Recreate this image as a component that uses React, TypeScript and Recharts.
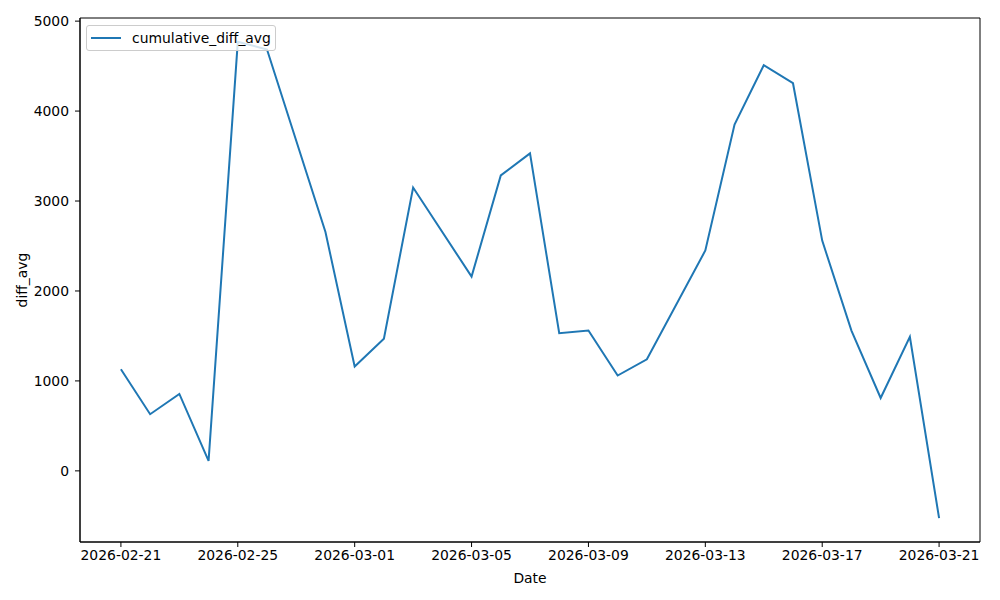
import React from 'react';
import { LineChart, Line, XAxis, YAxis, ReferenceArea } from 'recharts';

const dates = [
  '2026-02-21', '2026-02-22', '2026-02-23', '2026-02-24', '2026-02-25', '2026-02-26',
  '2026-02-28', '2026-03-01', '2026-03-02', '2026-03-03', '2026-03-05', '2026-03-06',
  '2026-03-07', '2026-03-08', '2026-03-09', '2026-03-10', '2026-03-11', '2026-03-13',
  '2026-03-14', '2026-03-15', '2026-03-16', '2026-03-17', '2026-03-18', '2026-03-19',
  '2026-03-20', '2026-03-21',
];
const cumulativeDiffAvg = [
  1130, 630, 855, 111, 4770, 4685,
  2655, 1160, 1470, 3150, 2160, 3285,
  3530, 1530, 1560, 1060, 1240, 2450,
  3850, 4510, 4310, 2560, 1560, 810,
  1490, -526,
];
const xTickLabels = [
  '2026-02-21', '2026-02-25', '2026-03-01', '2026-03-05',
  '2026-03-09', '2026-03-13', '2026-03-17', '2026-03-21',
];
const yTicks = [0, 1000, 2000, 3000, 4000, 5000];

const DAY = 86400000;
const toDay = (s: string) => Math.round(Date.parse(s + 'T00:00:00Z') / DAY);
const base = toDay(dates[0]);
const data = dates.map((d, i) => ({ x: toDay(d) - base, v: cumulativeDiffAvg[i] }));
const xTicks = xTickLabels.map((d) => toDay(d) - base);
const dayToLabel = (n: number) => new Date((base + n) * DAY).toISOString().slice(0, 10);

const xMin = Math.min(...data.map((d) => d.x));
const xMax = Math.max(...data.map((d) => d.x));
const xPad = (xMax - xMin) * 0.05;
const yMin = Math.min(...cumulativeDiffAvg);
const yMax = Math.max(...cumulativeDiffAvg);
const yPad = (yMax - yMin) * 0.05;
const xDomain = [xMin - xPad, xMax + xPad];
const yDomain = [yMin - yPad, yMax + yPad];

const FONT = '"DejaVu Sans", sans-serif';
const COLOR = '#1f77b4';
const tickStyle = { fill: '#000', fontSize: 13.9, fontFamily: FONT };

const LegendBox = () => (
  <div
    style={{
      position: 'absolute',
      left: 86,
      top: 25,
      boxSizing: 'border-box',
      width: 190,
      height: 26,
      border: '1px solid #cccccc',
      borderRadius: 3,
      background: 'rgba(255,255,255,0.8)',
      display: 'flex',
      alignItems: 'center',
      fontFamily: FONT,
      fontSize: 13.9,
      color: '#000',
      zIndex: 2,
    }}
  >
    <svg width={30} height={4} style={{ marginLeft: 4, marginRight: 11 }}>
      <line x1={0} y1={2} x2={30} y2={2} stroke={COLOR} strokeWidth={2} />
    </svg>
    <span style={{ whiteSpace: 'nowrap' }}>cumulative_diff_avg</span>
  </div>
);

export default function App() {
  return (
    <div style={{ position: 'absolute', left: 0, top: 0, width: 1000, height: 600, background: '#fff' }}>
      <LineChart width={1000} height={600} data={data} margin={{ top: 18, right: 20, left: 0, bottom: 0 }}>
        <XAxis
          dataKey="x"
          type="number"
          domain={xDomain}
          ticks={xTicks}
          tickFormatter={dayToLabel}
          allowDataOverflow
          height={58}
          tick={tickStyle}
          tickSize={5}
          tickMargin={3}
          axisLine={{ stroke: '#000', strokeWidth: 1 }}
          tickLine={{ stroke: '#000', strokeWidth: 1 }}
          label={{ value: 'Date', position: 'insideBottom', offset: 17, style: { ...tickStyle } }}
        />
        <YAxis
          type="number"
          domain={yDomain}
          ticks={yTicks}
          allowDataOverflow
          width={80}
          tick={tickStyle}
          tickSize={5}
          tickMargin={6}
          axisLine={{ stroke: '#000', strokeWidth: 1 }}
          tickLine={{ stroke: '#000', strokeWidth: 1 }}
          label={{
            value: 'diff_avg',
            angle: -90,
            position: 'insideLeft',
            offset: 22,
            style: { ...tickStyle, textAnchor: 'middle' },
          }}
        />
        <ReferenceArea
          x1={xDomain[0]}
          x2={xDomain[1]}
          y1={yDomain[0]}
          y2={yDomain[1]}
          fill="none"
          fillOpacity={0}
          stroke="#000"
          strokeWidth={1}
          ifOverflow="visible"
        />
        <Line
          type="linear"
          dataKey="v"
          name="cumulative_diff_avg"
          stroke={COLOR}
          strokeWidth={2}
          dot={false}
          activeDot={false}
          isAnimationActive={false}
        />
      </LineChart>
      <LegendBox />
    </div>
  );
}
